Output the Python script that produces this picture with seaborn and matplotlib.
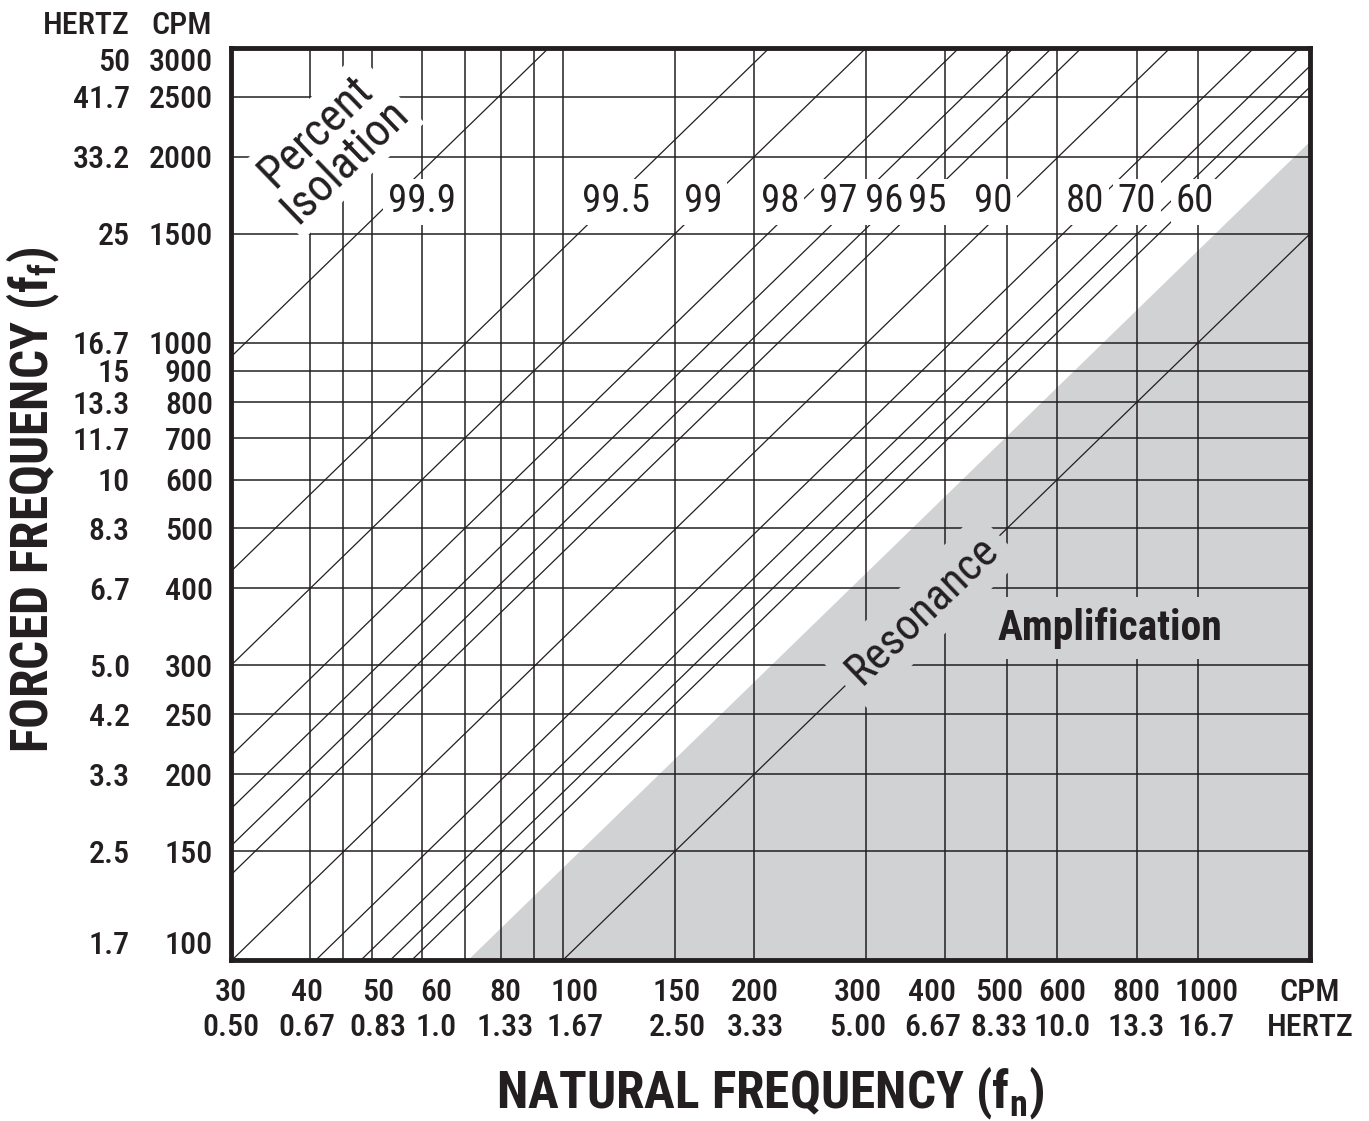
import numpy as np
import pandas as pd
import matplotlib
matplotlib.use("Agg")
import matplotlib.pyplot as plt
import matplotlib.transforms as mtransforms
import seaborn as sns
from matplotlib import font_manager
from matplotlib.ticker import FixedLocator, NullFormatter, NullLocator

# =====================================================
# DATA
# =====================================================

# natural frequency axis (CPM with HERTZ underneath)
x_cpm = [30, 40, 50, 60, 80, 100, 150, 200, 300, 400, 500, 600, 800, 1000]
x_hertz = ["0.50", "0.67", "0.83", "1.0", "1.33", "1.67", "2.50", "3.33",
           "5.00", "6.67", "8.33", "10.0", "13.3", "16.7"]
x_extra_grid = [45, 70, 90]

# forced frequency axis (CPM with HERTZ beside it)
y_cpm = [100, 150, 200, 250, 300, 400, 500, 600, 700, 800, 900, 1000,
         1500, 2000, 2500, 3000]
y_hertz = ["1.7", "2.5", "3.3", "4.2", "5.0", "6.7", "8.3", "10", "11.7",
           "13.3", "15", "16.7", "25", "33.2", "41.7", "50"]

# percent isolation lines: forced / natural frequency ratio of each line
isolation_labels = ["99.9", "99.5", "99", "98", "97", "96", "95", "90",
                    "80", "70", "60"]
isolation_ratio = [31.6, 14.2, 10.0, 7.14, 5.86, 5.10, 4.58, 3.32,
                   2.45, 2.08, 1.87]
unlabeled_ratio = 1.73
resonance_ratio = 1.0
amplification_ratio = 1.41

# =====================================================
# FONT (a narrow face if one is installed)
# =====================================================

ttf = font_manager.fontManager.ttflist
names = {f.name for f in ttf}
FONT = None
STRETCH = "normal"
for cand in ["Liberation Sans Narrow", "Roboto Condensed", "Open Sans Condensed",
             "Noto Sans Condensed", "DejaVu Sans Condensed", "Arial Narrow",
             "Nimbus Sans Narrow"]:
    if cand in names:
        FONT = cand
        break
if FONT is None:
    narrow = [f.name for f in ttf
              if str(f.stretch) in ("condensed", "semi-condensed", "extra-condensed")]
    for cand in ["DejaVu Sans", "Noto Sans", "Roboto", "Open Sans"]:
        if cand in narrow:
            FONT = cand
            STRETCH = "condensed"
            break
if FONT is None:
    FONT = "Roboto"
    SIZE = 0.86
else:
    SIZE = 1.0

# =====================================================
# STYLE / LAYOUT
# =====================================================

INK = "#231f20"
GRAY = "#d1d2d4"

X_MIN, X_MAX = 30, 1500
Y_MIN, Y_MAX = 100, 3000

TICK_FS = 23 * SIZE
TICK_W = "medium"
LABEL_FS = 28 * SIZE
TITLE_FS = 37 * SIZE

LABEL_ROW_FF = 1690
label_x_cpm = [60, 121, 166, 220, 271, 320, 374, 475, 664, 801, 989]
# small pixel nudges of the bottom tick labels, as in the reference
x_label_nudge = [0, -3, 6, 14, 4, 12, 2, 1, -8, -13, -8, 5, 0, 8]

sns.set_theme(style="white")
plt.rcParams["font.family"] = [FONT, "DejaVu Sans"]
plt.rcParams["font.stretch"] = STRETCH
plt.rcParams["mathtext.fontset"] = "custom"
plt.rcParams["mathtext.rm"] = FONT
plt.rcParams["mathtext.bf"] = FONT + ":bold"

fig = plt.figure(figsize=(13.69, 11.21), dpi=100)
ax = fig.add_axes([0.1687, 0.1436, 0.7882, 0.8136])
ax.set_xscale("log")
ax.set_yscale("log")
ax.set_facecolor("white")

# =====================================================
# AMPLIFICATION REGION
# =====================================================

ax.fill_between(
    [X_MIN, X_MAX],
    [X_MIN * amplification_ratio, X_MAX * amplification_ratio],
    1,
    color=GRAY,
    lw=0,
    zorder=0.5
)

# =====================================================
# DIAGONAL LINES
# =====================================================

line_names = isolation_labels + ["unlabeled", "resonance"]
ratios = isolation_ratio + [unlabeled_ratio, resonance_ratio]

rows = []
for name, r in zip(line_names, ratios):
    rows.append({"line": name, "fn": X_MIN, "ff": X_MIN * r})
    rows.append({"line": name, "fn": X_MAX, "ff": X_MAX * r})
lines = pd.DataFrame(rows)

sns.lineplot(
    data=lines,
    x="fn",
    y="ff",
    units="line",
    estimator=None,
    color=INK,
    linewidth=0.9,
    legend=False,
    ax=ax,
    zorder=2
)

# =====================================================
# AXES, TICKS, GRID
# =====================================================

ax.set_xlim(X_MIN, X_MAX)
ax.set_ylim(Y_MIN, Y_MAX)
ax.set(xlabel="", ylabel="")

ax.xaxis.set_major_locator(FixedLocator(x_cpm))
ax.xaxis.set_minor_locator(FixedLocator(x_extra_grid))
ax.xaxis.set_major_formatter(NullFormatter())
ax.xaxis.set_minor_formatter(NullFormatter())

ax.yaxis.set_major_locator(FixedLocator(y_cpm))
ax.yaxis.set_minor_locator(NullLocator())
ax.set_yticklabels([str(v) for v in y_cpm], fontweight=TICK_W)

ax.tick_params(which="both", length=0, colors=INK)
ax.tick_params(axis="y", pad=13, labelsize=TICK_FS)

ax.grid(True, which="both", color=INK, linewidth=1.1)

for side in ax.spines.values():
    side.set_visible(True)
    side.set_color(INK)
    side.set_linewidth(3.5)

# bottom labels: CPM row over HERTZ row
xtrans = ax.get_xaxis_transform()
for c, h, dx in zip(x_cpm + [X_MAX], x_hertz + ["HERTZ"],
                    x_label_nudge + [0]):
    top = "CPM" if c == X_MAX else str(c)
    t = mtransforms.offset_copy(xtrans, fig=fig, x=dx, y=0, units="dots")
    ax.text(c, -0.036, top, transform=t, ha="center", va="center",
            fontsize=TICK_FS, fontweight=TICK_W, color=INK)
    ax.text(c, -0.074, h, transform=t, ha="center", va="center",
            fontsize=TICK_FS, fontweight=TICK_W, color=INK)

# y tick label alignment at the ends, and HERTZ column
vas = ["center_baseline"] * len(y_cpm)
vas[0] = "bottom"
vas[-1] = "top"
for lab, va in zip(ax.get_yticklabels(), vas):
    lab.set_va(va)

HZ_X = -0.0936
for v, h, va in zip(y_cpm, y_hertz, vas):
    ax.text(HZ_X, v, h, transform=ax.get_yaxis_transform(),
            ha="right", va=va, fontsize=TICK_FS, fontweight=TICK_W,
            color=INK)

ax.text(HZ_X, 1.025, "HERTZ", transform=ax.transAxes, ha="right",
        va="center", fontsize=TICK_FS, fontweight=TICK_W, color=INK)
ax.text(-0.0176, 1.025, "CPM", transform=ax.transAxes, ha="right",
        va="center", fontsize=TICK_FS, fontweight=TICK_W, color=INK)

# =====================================================
# ANNOTATIONS
# =====================================================

white_box = dict(boxstyle="square,pad=0.12", fc="white", ec="none")
gray_box = dict(boxstyle="square,pad=0.25", fc=GRAY, ec="none")

for lab, xpos in zip(isolation_labels, label_x_cpm):
    ax.text(xpos, LABEL_ROW_FF, lab, ha="center", va="center",
            fontsize=LABEL_FS, color=INK, bbox=white_box, zorder=4)

ax.text(43, 2080, "Percent\nIsolation", rotation=44,
        rotation_mode="anchor", ha="center", va="center",
        multialignment="center", linespacing=0.95,
        fontsize=33 * SIZE, color=INK, bbox=white_box, zorder=4)

ax.text(368, 368 * resonance_ratio, "Resonance", rotation=44,
        rotation_mode="anchor", ha="center", va="center",
        fontsize=32 * SIZE, color=INK, bbox=gray_box, zorder=4)

ax.text(726, 345, "Amplification", ha="center", va="center",
        fontsize=30 * SIZE, fontweight="bold", color=INK, bbox=gray_box,
        zorder=4)

fig.text(0.0241, 0.554, r"FORCED FREQUENCY (f$_\mathbf{f}$)",
         rotation=90, ha="center", va="center", fontsize=TITLE_FS,
         fontweight="bold", color=INK)
fig.text(0.5625, 0.025, r"NATURAL FREQUENCY (f$_\mathbf{n}$)",
         ha="center", va="center", fontsize=TITLE_FS,
         fontweight="bold", color=INK)

fig.savefig("out.png", dpi=100, facecolor="white")
plt.close(fig)
